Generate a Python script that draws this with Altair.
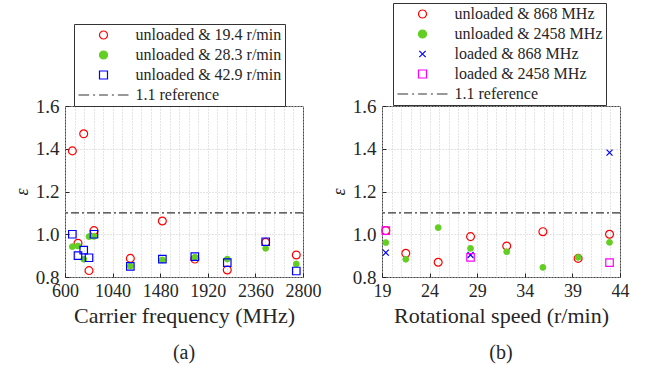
import altair as alt
import pandas as pd

# ---------- data: panel (a) ----------
freq_a = [668, 720, 773, 822, 868, 1204, 1500, 1800, 2100, 2455, 2738]
eps_19 = [1.39, 0.958, 1.47, 0.83, 1.017, 0.887, 1.062, 0.884, 0.833, 0.962, 0.903]
eps_28 = [0.942, 0.945, 0.883, 0.989, 0.99, 0.851, 0.88, 0.892, 0.884, 0.934, 0.861]
eps_42 = [1.0, 0.90, 0.926, 0.89, 1.0, 0.85, 0.884, 0.895, 0.867, 0.965, 0.828]
series_a = ["unloaded & 19.4 r/min", "unloaded & 28.3 r/min", "unloaded & 42.9 r/min", "1.1 reference"]

# ---------- data: panel (b) ----------
speed_b = [19.4, 21.5, 24.9, 28.3, 32.1, 35.9, 39.6, 42.9]
eps_u868 = [1.017, 0.911, 0.869, 0.989, 0.945, 1.012, 0.887, 1.0]
eps_u2458 = [0.961, 0.883, 1.031, 0.934, 0.918, 0.845, 0.892, 0.962]
speed_loaded = [19.4, 28.3, 42.9]
eps_l868 = [0.914, 0.903, 1.382]
eps_l2458 = [1.017, 0.892, 0.867]
series_b = ["unloaded & 868 MHz", "unloaded & 2458 MHz", "loaded & 868 MHz", "loaded & 2458 MHz", "1.1 reference"]

ref_value = [1.1]

# ---------- axis ticks ----------
x_major_a = [600, 1040, 1480, 1920, 2360, 2800]
x_grid_a = [600 + 88 * i for i in range(26)]
x_major_b = [19, 24, 29, 34, 39, 44]
x_grid_b = list(range(19, 45))
y_major = [0.8, 1.0, 1.2, 1.4, 1.6]
y_grid = [0.8, 0.85, 0.9, 0.95, 1.0, 1.05, 1.1, 1.15, 1.2, 1.25, 1.3, 1.35, 1.4, 1.45, 1.5, 1.55, 1.6]

FONT = "Liberation Serif"
TXT = "#262626"
RED = "#ff0000"
GREEN = "#62cf22"
BLUE = "#0000ff"
MAG = "#ff00ff"
XPATH = "M-0.8,-0.8L0.8,0.8M-0.8,0.8L0.8,-0.8"
LINEPATH = "M-6.25,0H-3.6M-2.6,0H-2.1M-1.1,0H1.1M2.1,0H2.6M3.6,0H6.25"

rows = []
for f, v in zip(freq_a, eps_19):
    rows.append({"x": f, "y": v, "s": series_a[0]})
for f, v in zip(freq_a, eps_28):
    rows.append({"x": f, "y": v, "s": series_a[1]})
for f, v in zip(freq_a, eps_42):
    rows.append({"x": f, "y": v, "s": series_a[2]})
df_a = pd.DataFrame(rows)

rows = []
for f, v in zip(speed_b, eps_u868):
    rows.append({"x": f, "y": v, "s": series_b[0]})
for f, v in zip(speed_b, eps_u2458):
    rows.append({"x": f, "y": v, "s": series_b[1]})
for f, v in zip(speed_loaded, eps_l868):
    rows.append({"x": f, "y": v, "s": series_b[2]})
for f, v in zip(speed_loaded, eps_l2458):
    rows.append({"x": f, "y": v, "s": series_b[3]})
df_b = pd.DataFrame(rows)
df_ref = pd.DataFrame({"y": ref_value})


def x_axis(values, major_test, title):
    return alt.Axis(
        values=values,
        title=title, format="d",
        labelExpr=f"({major_test}) ? datum.label : ''",
        tickOpacity={"condition": {"test": major_test, "value": 1}, "value": 0},
        offset=-4, tickSize=4, tickColor=TXT, tickWidth=1,
        labelPadding=5, labelFlush=False, labelOverlap=False,
        labelFont=FONT, labelFontSize=18, labelColor=TXT,
        titleFont=FONT, titleFontSize=22, titleFontWeight="normal", titleColor=TXT,
        titlePadding=5,
        domain=False, grid=True, gridDash=[1, 2], gridColor="#c8c8c8", gridWidth=1,
    )


def y_axis():
    test = "abs(datum.value*5 - round(datum.value*5)) < 0.001"
    return alt.Axis(
        values=y_grid, format=".1f", title="ε",
        labelExpr=f"({test}) ? datum.label : ''",
        tickOpacity={"condition": {"test": test, "value": 1}, "value": 0},
        offset=-4, tickSize=4, tickColor=TXT, tickWidth=1,
        labelPadding=6, labelFlush=False, labelOverlap=False,
        labelFont=FONT, labelFontSize=19, labelColor=TXT,
        titleFont=FONT, titleFontSize=18, titleFontStyle="italic", titleFontWeight="normal",
        titleColor=TXT, titlePadding=4,
        domain=False, grid=True, gridDash=[1, 2], gridColor="#c8c8c8", gridWidth=1,
    )


def legend(lx, ly):
    return alt.Legend(
        orient="none", legendX=lx, legendY=ly, title=None,
        fillColor="white", strokeColor="#333333", padding=3,
        labelFont=FONT, labelFontSize=16, labelColor=TXT,
        symbolSize=64, symbolStrokeWidth=1.2, symbolOffset=18.5, labelOffset=24,
        rowPadding=4, labelLimit=400,
    )


def panel(df, series, strokes, fills, shapes, xdom, xvals, xtest, xtitle, lx, ly, label):
    lg = legend(lx, ly)
    enc = dict(
        x=alt.X("x:Q", scale=alt.Scale(domain=xdom, nice=False, zero=False),
                axis=x_axis(xvals, xtest, xtitle)),
        y=alt.Y("y:Q", scale=alt.Scale(domain=[0.8, 1.6], nice=False, zero=False), axis=y_axis()),
        stroke=alt.Stroke("s:N", scale=alt.Scale(domain=series, range=strokes), legend=lg),
        fill=alt.Fill("s:N", scale=alt.Scale(domain=series, range=fills), legend=lg),
        shape=alt.Shape("s:N", scale=alt.Scale(domain=series, range=shapes), legend=lg),
    )
    base = alt.Chart(df)
    first = base.mark_point(filled=False, opacity=1, strokeWidth=1.2, size=62).encode(**enc).transform_filter(
        alt.FieldEqualPredicate(field="s", equal=series[0]))
    dots = base.mark_point(filled=False, opacity=1, strokeWidth=1.0, size=34).encode(**enc).transform_filter(
        alt.FieldEqualPredicate(field="s", equal=series[1]))
    rest = base.mark_point(filled=False, opacity=1, strokeWidth=1.2, size=56).encode(**enc).transform_filter(
        alt.FieldOneOfPredicate(field="s", oneOf=series[2:-1]))
    ref = alt.Chart(df_ref).mark_rule(strokeDash=[8, 3, 2, 3], color="#333333", strokeWidth=1.2).encode(
        y="y:Q"
    )
    return alt.layer(ref, first, dots, rest).properties(
        width=238, height=171,
        title=alt.TitleParams(label, orient="bottom", font=FONT, fontSize=20,
                              fontWeight="normal", color=TXT, offset=17),
    )


left = panel(
    df_a, series_a,
    [RED, GREEN, BLUE, "#333333"],
    ["transparent", GREEN, "transparent", "transparent"],
    ["circle", "circle", "square", LINEPATH],
    [600, 2800], x_grid_a, "(datum.value - 600) % 440 == 0", "Carrier frequency (MHz)",
    9, -82, "(a)",
)
right = panel(
    df_b, series_b,
    [RED, GREEN, BLUE, MAG, "#333333"],
    ["transparent", GREEN, "transparent", "transparent", "transparent"],
    ["circle", "circle", XPATH, "square", LINEPATH],
    [19, 44], x_grid_b, "(datum.value - 19) % 5 == 0", "Rotational speed (r/min)",
    11, -103, "(b)",
)

chart = alt.hconcat(left, right, spacing=7).resolve_scale(
    stroke="independent", fill="independent", shape="independent",
    x="independent",
).properties(
    padding={"left": 12, "top": 2, "right": 5, "bottom": 2},
    background="white",
).configure_view(stroke="#444444", strokeWidth=1)

chart.save("out.html", embed_options={"renderer": "svg", "actions": False})
